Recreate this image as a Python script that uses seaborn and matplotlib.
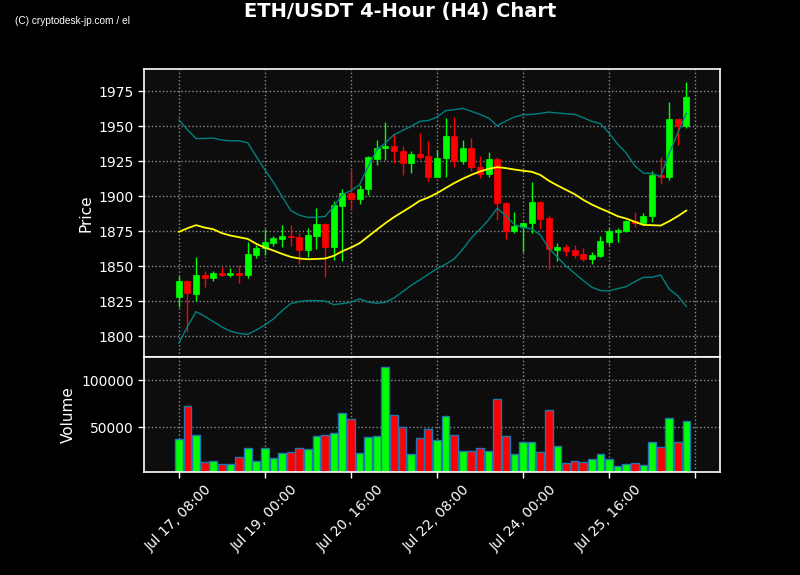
import numpy as np
import pandas as pd
import matplotlib
matplotlib.use("Agg")
import matplotlib.pyplot as plt
from matplotlib import font_manager
import seaborn as sns

# ---- data ----
opens = [1828.3, 1839.5, 1830.5, 1843.8, 1841.9, 1845.5, 1843.8, 1845.5, 1844.0, 1858.3,
         1863.1, 1866.7, 1869.5, 1871.7, 1871.0, 1861.7, 1871.9, 1880.2, 1864.0, 1893.3,
         1902.4, 1898.3, 1904.8, 1926.7, 1934.0, 1936.0, 1932.4, 1923.3, 1930.2, 1928.8,
         1914.0, 1926.9, 1943.1, 1924.8, 1934.5, 1921.0, 1915.5, 1926.7, 1895.2, 1875.2,
         1878.1, 1880.5, 1896.0, 1884.5, 1861.9, 1863.8, 1861.7, 1858.8, 1855.5, 1857.6,
         1867.6, 1874.5, 1874.8, 1882.4, 1881.0, 1885.5, 1915.0, 1914.0, 1955.0, 1949.8]
highs = [1843.3, 1840.2, 1856.4, 1846.4, 1846.7, 1849.8, 1848.8, 1850.7, 1867.6, 1865.2,
         1876.9, 1871.9, 1879.3, 1879.3, 1873.6, 1877.1, 1891.4, 1880.5, 1896.2, 1905.0,
         1918.8, 1907.6, 1928.6, 1940.0, 1952.9, 1944.5, 1935.5, 1931.9, 1945.0, 1939.3,
         1933.1, 1955.7, 1956.4, 1940.0, 1941.4, 1928.3, 1931.4, 1927.9, 1895.7, 1889.0,
         1881.4, 1910.0, 1896.3, 1886.4, 1866.7, 1866.0, 1865.0, 1862.9, 1860.0, 1871.9,
         1877.1, 1877.1, 1883.3, 1889.0, 1887.9, 1917.6, 1927.6, 1967.1, 1955.2, 1981.4]
lows = [1821.2, 1802.9, 1825.2, 1835.0, 1839.3, 1842.9, 1842.1, 1837.9, 1841.4, 1855.7,
        1858.3, 1864.5, 1863.6, 1864.5, 1851.7, 1856.9, 1862.1, 1842.6, 1854.5, 1853.6,
        1890.2, 1894.3, 1900.5, 1921.9, 1925.9, 1923.6, 1915.0, 1916.4, 1926.7, 1910.5,
        1913.8, 1913.6, 1920.5, 1922.6, 1918.1, 1912.9, 1914.0, 1883.1, 1869.3, 1874.0,
        1860.0, 1873.6, 1876.4, 1847.9, 1853.6, 1857.1, 1855.7, 1854.0, 1851.7, 1856.9,
        1865.0, 1867.6, 1874.3, 1878.3, 1879.3, 1881.4, 1908.8, 1911.4, 1936.4, 1948.6]
closes = [1839.5, 1830.7, 1843.8, 1841.9, 1845.5, 1843.8, 1845.5, 1843.8, 1858.8, 1863.1,
          1867.4, 1870.2, 1871.7, 1870.5, 1861.7, 1872.4, 1880.2, 1864.0, 1893.8, 1902.4,
          1898.3, 1905.2, 1927.6, 1934.5, 1936.0, 1931.9, 1923.3, 1930.2, 1928.1, 1914.0,
          1927.4, 1943.1, 1924.8, 1934.5, 1920.5, 1916.0, 1926.7, 1894.8, 1875.0, 1878.8,
          1881.0, 1896.0, 1883.8, 1862.1, 1863.8, 1861.0, 1858.3, 1855.5, 1857.9, 1868.1,
          1875.2, 1875.5, 1882.4, 1880.7, 1886.0, 1915.0, 1913.6, 1955.0, 1949.8, 1970.7]
volumes = [37200, 72300, 41500, 12800, 13800, 10600, 10600, 18100, 27700, 13800,
           27700, 17000, 22300, 23400, 27700, 26600, 40400, 41500, 43600, 64900,
           58500, 22300, 39400, 40400, 113800, 62800, 50000, 21300, 38300, 47900,
           36200, 61700, 41500, 25200, 25200, 28400, 25200, 79800, 40400, 21300,
           34000, 34000, 23400, 68100, 29800, 11700, 13800, 12800, 16000, 21300,
           16000, 8500, 10600, 11700, 9600, 34000, 28700, 59600, 34000, 56400]
ma_line = [1874.5, 1877.1, 1879.3, 1877.6, 1876.4, 1873.6, 1871.9, 1870.7, 1869.5, 1866.0,
           1863.3, 1861.2, 1858.8, 1856.7, 1855.5, 1855.0, 1855.2, 1855.5, 1857.4, 1860.7,
           1863.3, 1866.4, 1871.2, 1876.0, 1880.7, 1885.0, 1888.8, 1892.6, 1896.7, 1899.0,
           1902.1, 1905.7, 1909.3, 1912.4, 1915.2, 1917.6, 1919.5, 1920.7, 1920.0, 1919.0,
           1918.1, 1917.4, 1915.2, 1911.0, 1907.6, 1904.5, 1901.4, 1897.4, 1894.0, 1891.2,
           1888.6, 1885.7, 1884.0, 1881.7, 1879.5, 1879.3, 1879.0, 1882.1, 1885.7, 1889.8]
upper_band = [1954.5, 1947.4, 1941.0, 1941.2, 1941.4, 1940.0, 1939.5, 1939.5, 1938.1, 1928.3,
              1918.8, 1909.8, 1899.8, 1889.8, 1886.4, 1884.8, 1885.0, 1885.5, 1892.6, 1901.0,
              1904.0, 1908.1, 1921.2, 1933.1, 1937.9, 1943.8, 1946.9, 1949.8, 1953.3, 1954.0,
              1956.4, 1961.0, 1961.7, 1962.6, 1960.5, 1958.3, 1955.7, 1950.2, 1953.6, 1956.4,
              1958.1, 1958.3, 1959.0, 1960.0, 1959.3, 1958.8, 1958.3, 1956.0, 1953.3, 1951.7,
              1945.0, 1937.1, 1930.7, 1921.7, 1916.4, 1916.2, 1914.0, 1930.7, 1945.0, 1959.3]
lower_band = [1795.0, 1806.9, 1817.6, 1814.3, 1810.5, 1806.7, 1803.6, 1802.1, 1801.4, 1804.5,
              1808.1, 1812.4, 1818.3, 1823.3, 1824.8, 1825.5, 1825.5, 1825.2, 1822.6, 1823.3,
              1824.3, 1826.7, 1824.5, 1823.6, 1824.3, 1827.4, 1831.7, 1836.4, 1840.2, 1844.3,
              1848.3, 1851.4, 1855.2, 1862.1, 1870.2, 1876.4, 1883.1, 1891.4, 1886.0, 1879.8,
              1877.6, 1876.7, 1872.4, 1862.9, 1856.4, 1850.2, 1845.0, 1839.8, 1835.0, 1832.6,
              1832.4, 1834.0, 1835.5, 1839.0, 1842.1, 1842.1, 1843.8, 1833.6, 1828.8, 1821.2]
tick_positions = [0, 10, 20, 30, 40, 50, 60]
tick_labels = ["Jul 17, 08:00", "Jul 19, 00:00", "Jul 20, 16:00", "Jul 22, 08:00",
               "Jul 24, 00:00", "Jul 25, 16:00", ""]
price_ticks = [1800, 1825, 1850, 1875, 1900, 1925, 1950, 1975]
volume_ticks = [50000, 100000]

# ---- styling ----
sns.set_style("darkgrid")
plt.rcParams['font.family'] = ['DejaVu Sans']
UP = "#00ff00"
DOWN = "#ff0000"
BG = "#000000"
AX_BG = "#0d0d0d"
GRID = "#8c8c8c"

available = {f.name for f in font_manager.fontManager.ttflist}
if "Liberation Sans Narrow" in available:
    wm_family, wm_size = ["Liberation Sans Narrow", "DejaVu Sans"], 7.5
else:
    wm_family, wm_size = ["Liberation Sans", "DejaVu Sans"], 7.3

df = pd.DataFrame({"idx": np.arange(len(opens)), "open": opens, "high": highs,
                   "low": lows, "close": closes, "volume": volumes,
                   "ma": ma_line, "upper": upper_band, "lower": lower_band})
df["dir"] = np.where(df["close"] >= df["open"], "up", "down")
df["color"] = np.where(df["dir"] == "up", UP, DOWN)

fig = plt.figure(figsize=(8, 5.75), dpi=100, facecolor=BG)
ax1 = fig.add_axes([0.18, 0.379, 0.72, 0.501])
ax2 = fig.add_axes([0.18, 0.179, 0.72, 0.200], sharex=ax1)

for ax in (ax1, ax2):
    ax.set_facecolor(AX_BG)
    ax.set_axisbelow(True)
    for s in ax.spines.values():
        s.set_color("white")
        s.set_linewidth(1.2)
        s.set_visible(True)
    ax.tick_params(colors="white", labelcolor="white", labelsize=10,
                   direction="out", length=4, width=1, bottom=True, left=True)

# candles
ax1.vlines(df["idx"], df["low"], df["high"], colors=df["color"], linewidth=1.0, zorder=2)
body_bottom = np.minimum(df["open"], df["close"])
body_height = np.abs(df["close"] - df["open"])
ax1.bar(df["idx"], body_height, bottom=body_bottom, width=0.7, color=df["color"],
        edgecolor=df["color"], linewidth=0.5, zorder=3)

# indicator lines
sns.lineplot(data=df, x="idx", y="upper", color="#008080", linewidth=1.0, ax=ax1, zorder=4)
sns.lineplot(data=df, x="idx", y="lower", color="#008080", linewidth=1.0, ax=ax1, zorder=4)
sns.lineplot(data=df, x="idx", y="ma", color="#ffff00", linewidth=1.3, ax=ax1, zorder=5)

ax1.set_ylim(1785.2, 1990.7)
ax1.set_yticks(price_ticks)
ax1.set_ylabel("Price", color="white", fontsize=11)
ax1.set_xlabel("")
ax1.tick_params(axis="x", labelbottom=False)

# volume
sns.barplot(data=df, x="idx", y="volume", hue="dir",
            palette={"up": UP, "down": DOWN}, dodge=False, native_scale=True,
            width=0.9, edgecolor="#1f77b4", linewidth=1.0, legend=False,
            saturation=1, ax=ax2, zorder=2)
ax2.set_ylim(2450, 124500)
ax2.set_yticks(volume_ticks)
ax2.set_ylabel("Volume", color="white", fontsize=11)
ax2.set_xlabel("")

ax2.set_xlim(-4.05, 62.9)
ax2.set_xticks(tick_positions)
ax2.set_xticklabels(tick_labels, rotation=45, ha="center")
ax1.grid(True, color=GRID, linestyle=":", linewidth=1.0)
ax2.grid(True, color=GRID, linestyle=":", linewidth=1.0)

ax1.yaxis.set_label_coords(-0.0885, 0.5)
ax2.yaxis.set_label_coords(-0.1176, 0.5)

fig.suptitle("ETH/USDT 4-Hour (H4) Chart", color="white", fontsize=14,
             fontweight="bold", x=0.5, y=0.997)
fig.text(0.019, 0.963, "(C) cryptodesk-jp.com / el", color="white", fontsize=wm_size,
         family=wm_family, va="center", ha="left")

fig.savefig("out.png", dpi=100, facecolor=BG)
